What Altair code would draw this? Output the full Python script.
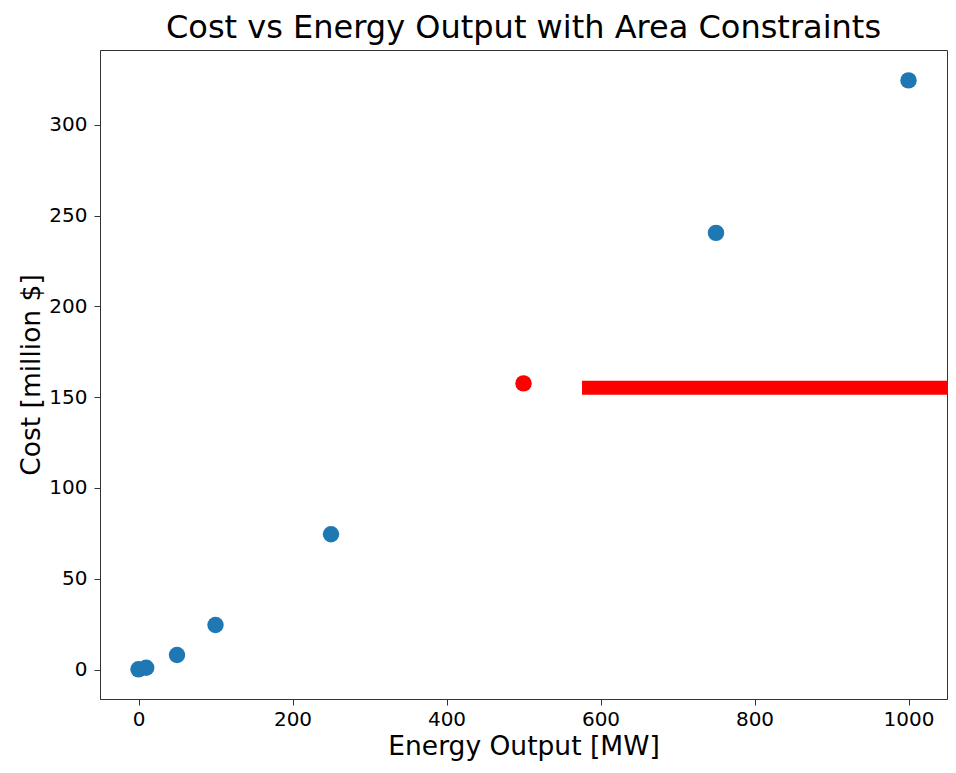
import altair as alt
import pandas as pd

# Data
energy_mw = [0, 10, 50, 100, 250, 500, 750, 1000]
cost_musd = [0.1, 1.0, 8.0, 24.5, 74.5, 157.6, 240.5, 324.5]
status = ["ok", "ok", "ok", "ok", "ok", "constrained", "ok", "ok"]

limit_x_start = [576]
limit_x_end = [1100]
limit_cost = [155.2]

x_ticks = [0, 200, 400, 600, 800, 1000]
y_ticks = [0, 50, 100, 150, 200, 250, 300]
x_domain = [-50, 1050]
y_domain = [-16.25, 341.25]

pts = pd.DataFrame({"energy": energy_mw, "cost": cost_musd, "status": status})
lim = pd.DataFrame({"x": limit_x_start, "x2": limit_x_end, "y": limit_cost})

FONT = "DejaVu Sans"

xs = alt.Scale(domain=x_domain, nice=False, zero=False)
ys = alt.Scale(domain=y_domain, nice=False, zero=False)

x_axis = alt.Axis(values=x_ticks, format="d", title="Energy Output [MW]", grid=False,
                  tickSize=6, labelPadding=4, titlePadding=4,
                  labelFontSize=20, titleFontSize=26.5, labelFont=FONT, titleFont=FONT,
                  titleFontWeight="normal", labelColor="black", titleColor="black",
                  tickColor="#333", domainColor="#333")
y_axis = alt.Axis(values=y_ticks, format="d", title="Cost [million $]", grid=False,
                  tickSize=6, labelPadding=7, titlePadding=3,
                  labelFontSize=20, titleFontSize=26.5, labelFont=FONT, titleFont=FONT,
                  titleFontWeight="normal", labelColor="black", titleColor="black",
                  tickColor="#333", domainColor="#333")

points = alt.Chart(pts).mark_circle(size=270, opacity=1).encode(
    x=alt.X("energy:Q", scale=xs, axis=x_axis),
    y=alt.Y("cost:Q", scale=ys, axis=y_axis),
    color=alt.Color("status:N",
                    scale=alt.Scale(domain=["ok", "constrained"], range=["#1f77b4", "#ff0000"]),
                    legend=None),
)

limit = alt.Chart(lim).mark_rule(color="#ff0000", strokeWidth=14, clip=False).encode(
    x=alt.X("x:Q", scale=xs),
    x2="x2:Q",
    y=alt.Y("y:Q", scale=ys),
)

chart = (points + limit).properties(
    width=847,
    height=649,
    title=alt.TitleParams("Cost vs Energy Output with Area Constraints",
                          fontSize=32, font=FONT, fontWeight="normal",
                          color="black", anchor="middle", offset=5),
    autosize=alt.AutoSizeParams(type="none"),
    padding={"left": 92, "top": 42, "right": 1, "bottom": 64},
).configure_view(stroke="#333", strokeWidth=1)

chart.save("out.html", embed_options={"renderer": "svg", "actions": False})
